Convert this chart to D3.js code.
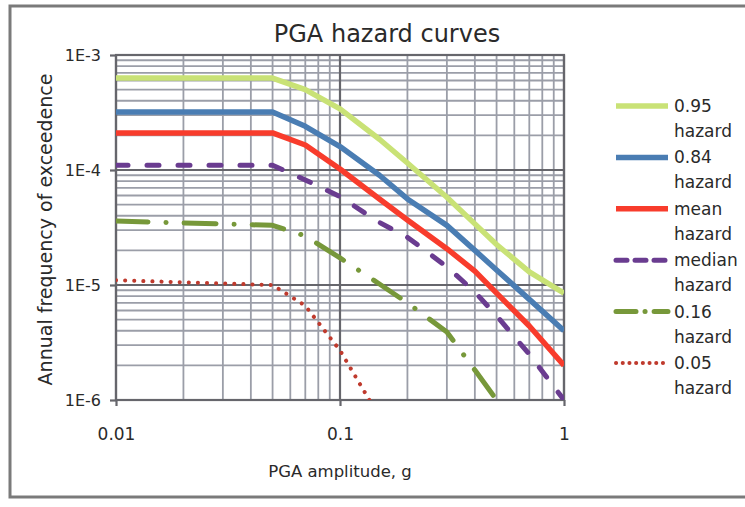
<!DOCTYPE html>
<html>
<head>
<meta charset="utf-8">
<script src="https://cdn.jsdelivr.net/npm/d3@7"></script>
<style>
  body { margin: 0; background: #fff; }
  svg { display: block; font-family: "DejaVu Sans", sans-serif; }
</style>
</head>
<body>
<svg id="chart" width="745" height="507"></svg>
<script>
// PGA amplitudes (g) at which each hazard curve is tabulated
const pga = [0.01, 0.05, 0.07, 0.1, 0.15, 0.2, 0.3, 0.4, 0.5, 0.7, 1.0];

// Annual frequency of exceedence for each fractile / statistic
const hazard95 = [6.3e-4, 6.3e-4, 5.0e-4, 3.4e-4, 1.85e-4, 1.15e-4, 5.8e-5, 3.4e-5, 2.25e-5, 1.3e-5, 8.5e-6];
const hazard84 = [3.2e-4, 3.2e-4, 2.4e-4, 1.6e-4, 9.0e-5, 5.6e-5, 3.3e-5, 2.0e-5, 1.35e-5, 7.5e-6, 4.0e-6];
const hazardMean = [2.1e-4, 2.1e-4, 1.65e-4, 1.02e-4, 5.6e-5, 3.67e-5, 2.07e-5, 1.32e-5, 8.5e-6, 4.4e-6, 2.0e-6];
const hazardMedian = [1.1e-4, 1.1e-4, 8.2e-5, 5.86e-5, 3.5e-5, 2.6e-5, 1.44e-5, 8.7e-6, 5.4e-6, 2.5e-6, 1.0e-6];
const hazard16 = [3.6e-5, 3.3e-5, 2.67e-5, 1.72e-5, 1.02e-5, 7.0e-6, 3.9e-6, 1.82e-6, 1.0e-6, 4.2e-7];
const hazard05 = [1.1e-5, 1.0e-5, 6.6e-6, 2.7e-6, 7.1e-7];

const seriesLabels = ["0.95", "0.84", "mean", "median", "0.16", "0.05"];
const seriesValues = [hazard95, hazard84, hazardMean, hazardMedian, hazard16, hazard05];

const xTickValues = [0.01, 0.1, 1];
const xTickLabels = ["0.01", "0.1", "1"];
const yTickValues = [1e-3, 1e-4, 1e-5, 1e-6];
const yTickLabels = ["1E-3", "1E-4", "1E-5", "1E-6"];

// Line styles per series
const styles = [
  { color: "#c9e276", width: 5.5, dash: null, legendDash: null, cap: "butt" },
  { color: "#4a7db3", width: 5.5, dash: null, legendDash: null, cap: "butt" },
  { color: "#f83c2c", width: 5.5, dash: null, legendDash: null, cap: "butt" },
  { color: "#6a3c90", width: 5, dash: "12,19", legendDash: "11,8", cap: "round" },
  { color: "#77983a", width: 5, dash: "32,18,0.1,18", legendDash: "20,9,0.1,9", cap: "round" },
  { color: "#bf3a2d", width: 4, dash: "0.1,9", legendDash: "0.1,6.6", cap: "round" }
];

const svg = d3.select("#chart");
const plot = { left: 116, top: 55, right: 564, bottom: 400 };

// Outer chart border (its right edge runs past the canvas)
svg.append("rect")
  .attr("x", 10).attr("y", 6)
  .attr("width", 745).attr("height", 491)
  .attr("fill", "#fff").attr("stroke", "#7a7a7a").attr("stroke-width", 3);

const x = d3.scaleLog().domain([0.01, 1]).range([plot.left, plot.right]);
const y = d3.scaleLog().domain([1e-6, 1e-3]).range([plot.bottom, plot.top]);

// Minor grid values (2..9 within each decade)
const xMinor = [];
[-2, -1].forEach(k => { for (let m = 2; m <= 9; m++) xMinor.push(m * Math.pow(10, k)); });
const yMinor = [];
[-6, -5, -4].forEach(k => { for (let m = 2; m <= 9; m++) yMinor.push(m * Math.pow(10, k)); });

const minorColor = "#9b9ea8";
const majorColor = "#66666c";
const grid = svg.append("g");
grid.selectAll(".vx").data(xMinor).join("line")
  .attr("x1", d => x(d)).attr("x2", d => x(d))
  .attr("y1", plot.top).attr("y2", plot.bottom)
  .attr("stroke", minorColor).attr("stroke-width", 1.8);
grid.selectAll(".hy").data(yMinor).join("line")
  .attr("x1", plot.left).attr("x2", plot.right)
  .attr("y1", d => y(d)).attr("y2", d => y(d))
  .attr("stroke", minorColor).attr("stroke-width", 1.8);
grid.selectAll(".vmaj").data(xTickValues).join("line")
  .attr("x1", d => x(d)).attr("x2", d => x(d))
  .attr("y1", plot.top).attr("y2", plot.bottom)
  .attr("stroke", majorColor).attr("stroke-width", 2.2);
grid.selectAll(".hmaj").data(yTickValues).join("line")
  .attr("x1", plot.left).attr("x2", plot.right)
  .attr("y1", d => y(d)).attr("y2", d => y(d))
  .attr("stroke", majorColor).attr("stroke-width", 2.2);

// Plot frame
svg.append("rect")
  .attr("x", plot.left).attr("y", plot.top)
  .attr("width", plot.right - plot.left).attr("height", plot.bottom - plot.top)
  .attr("fill", "none").attr("stroke", majorColor).attr("stroke-width", 2.2);

// Axes
const xAxis = svg.append("g")
  .attr("transform", `translate(0,${plot.bottom})`)
  .call(d3.axisBottom(x).tickValues(xTickValues)
    .tickFormat((d, i) => xTickLabels[i]).tickSize(6).tickPadding(22));
const yAxis = svg.append("g")
  .attr("transform", `translate(${plot.left},0)`)
  .call(d3.axisLeft(y).tickValues(yTickValues)
    .tickFormat((d, i) => yTickLabels[i]).tickSize(6).tickPadding(9));
[xAxis, yAxis].forEach(a => {
  a.select(".domain").remove();
  a.selectAll(".tick line").attr("stroke", majorColor).attr("stroke-width", 2.2);
  a.selectAll("text").attr("fill", "#2a2a2a").attr("font-family", "DejaVu Sans, sans-serif");
});
xAxis.selectAll("text").attr("font-size", 17);
yAxis.selectAll("text").attr("font-size", 16);

// Curves, clipped to the plot area
svg.append("clipPath").attr("id", "plot-clip")
  .append("rect")
  .attr("x", plot.left).attr("y", plot.top)
  .attr("width", plot.right - plot.left).attr("height", plot.bottom - plot.top);

const line = d3.line().x(d => x(d[0])).y(d => y(d[1]));
const curves = svg.append("g").attr("clip-path", "url(#plot-clip)");
seriesValues.forEach((vals, i) => {
  const pts = vals.map((v, j) => [pga[j], v]);
  const s = styles[i];
  curves.append("path")
    .attr("d", line(pts))
    .attr("fill", "none")
    .attr("stroke", s.color)
    .attr("stroke-width", s.width)
    .attr("stroke-linecap", s.cap)
    .attr("stroke-linejoin", "round")
    .attr("stroke-dasharray", s.dash);
});

// Title and axis titles
svg.append("text")
  .attr("x", 387).attr("y", 42)
  .attr("text-anchor", "middle")
  .attr("font-size", 24).attr("fill", "#2a2a2a")
  .text("PGA hazard curves");
svg.append("text")
  .attr("x", 340).attr("y", 477)
  .attr("text-anchor", "middle")
  .attr("font-size", 16.5).attr("fill", "#2a2a2a")
  .text("PGA amplitude, g");
svg.append("text")
  .attr("transform", `translate(52,${(plot.top + plot.bottom) / 2 + 2}) rotate(-90)`)
  .attr("text-anchor", "middle")
  .attr("font-size", 19).attr("fill", "#2a2a2a")
  .text("Annual frequency of exceedence");

// Legend
const legend = svg.append("g");
seriesLabels.forEach((lab, i) => {
  const ly = 106 + i * 51.4;
  const s = styles[i];
  legend.append("line")
    .attr("x1", 616).attr("x2", 668)
    .attr("y1", ly).attr("y2", ly)
    .attr("stroke", s.color)
    .attr("stroke-width", s.width)
    .attr("stroke-linecap", s.cap)
    .attr("stroke-dasharray", s.legendDash);
  const t = legend.append("text")
    .attr("x", 674).attr("y", ly + 6)
    .attr("font-size", 17).attr("fill", "#2a2a2a");
  t.append("tspan").attr("x", 674).text(lab);
  t.append("tspan").attr("x", 674).attr("dy", 25).text("hazard");
});
</script>
</body>
</html>
